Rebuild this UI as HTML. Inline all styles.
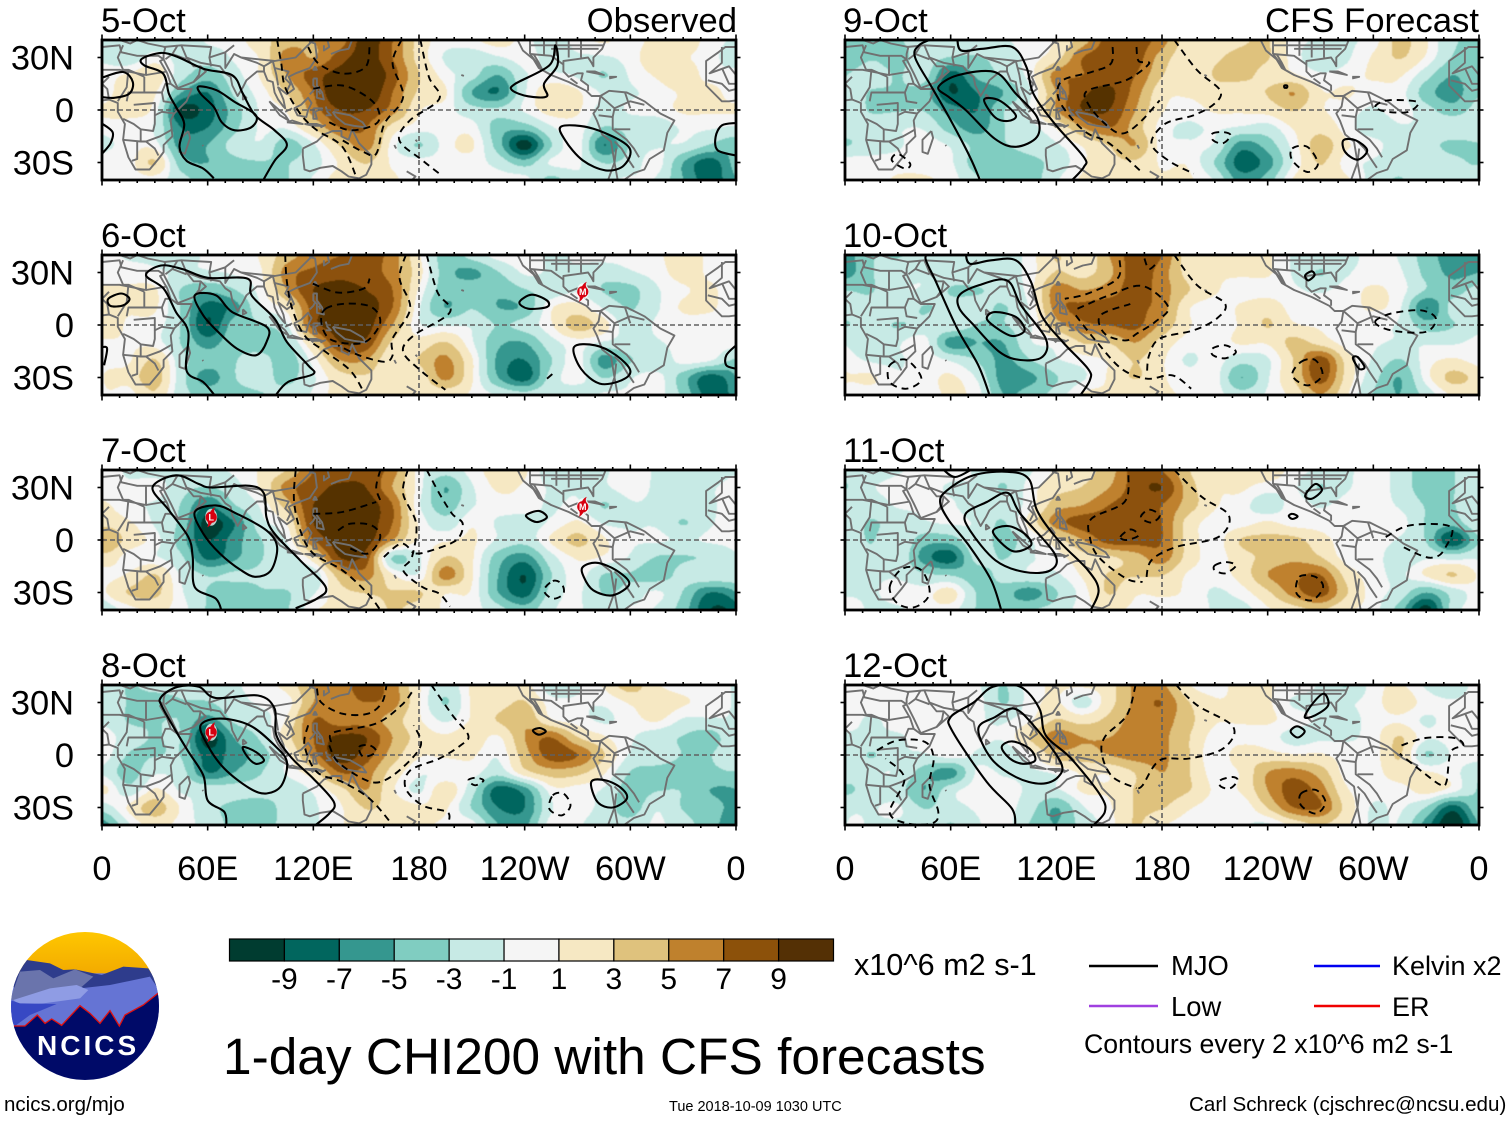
<!DOCTYPE html>
<html lang="en">
<head>
<meta charset="utf-8">
<title>1-day CHI200 with CFS forecasts</title>
<style>
html,body{margin:0;padding:0;background:#fff;}
svg{display:block;font-family:"Liberation Sans",Arial,sans-serif;}
</style>
</head>
<body>
<svg id="chart" xmlns="http://www.w3.org/2000/svg" width="1510" height="1121" viewBox="0 0 1510 1121">
<rect width="1510" height="1121" fill="#fff"/>
<g id="panels"></g>
<g font-size="34.7" fill="#000">
<text x="101" y="32">5-Oct</text>
<text x="101" y="247">6-Oct</text>
<text x="101" y="462">7-Oct</text>
<text x="101" y="677">8-Oct</text>
<text x="843" y="32">9-Oct</text>
<text x="843" y="247">10-Oct</text>
<text x="843" y="462">11-Oct</text>
<text x="843" y="677">12-Oct</text>
<text x="737" y="32" text-anchor="end">Observed</text>
<text x="1479" y="32" text-anchor="end">CFS Forecast</text>
</g>
<g id="colorbar"></g>
<text x="854" y="975" font-size="30.6">x10^6 m2 s-1</text>
<text x="223" y="1074" font-size="51.4">1-day CHI200 with CFS forecasts</text>
<g font-size="27">
<line x1="1089" x2="1158" y1="966" y2="966" stroke="#000" stroke-width="2.4"/>
<text x="1171" y="975" font-size="27.4">MJO</text>
<line x1="1089" x2="1158" y1="1006" y2="1006" stroke="#a040e0" stroke-width="2.6"/>
<text x="1171" y="1016" font-size="27.4">Low</text>
<line x1="1314" x2="1380" y1="966" y2="966" stroke="#0000f0" stroke-width="2.6"/>
<text x="1392" y="975">Kelvin x2</text>
<line x1="1314" x2="1380" y1="1006" y2="1006" stroke="#f00000" stroke-width="2.6"/>
<text x="1392" y="1016">ER</text>
<text x="1084" y="1053" font-size="26.65">Contours every 2 x10^6 m2 s-1</text>
</g>
<text x="4" y="1111" font-size="20.5">ncics.org/mjo</text>
<text x="669" y="1111" font-size="14.5">Tue 2018-10-09 1030 UTC</text>
<text x="1189" y="1111" font-size="20.6">Carl Schreck (cjschrec@ncsu.edu)</text>
<defs>
<clipPath id="logo-clip"><circle cx="255" cy="258" r="222"/></clipPath>
<linearGradient id="logo-sky" x1="0" y1="0" x2="0" y2="1"><stop offset="0" stop-color="#ffc800"/><stop offset="1" stop-color="#f0a400"/></linearGradient>
</defs>
<g transform="translate(0,920) scale(0.33333)">
<g clip-path="url(#logo-clip)">
<rect x="30" y="30" width="450" height="160" fill="url(#logo-sky)"/>
<rect x="30" y="160" width="450" height="200" fill="#6574d4"/>
<polygon fill="#2e3c8c" points="30,190 80,120 150,130 190,150 225,148 305,165 370,140 445,145 480,200 300,240 60,220"/>
<polygon fill="#6a74ac" points="30,240 60,155 120,150 160,175 225,148 280,170 240,205 150,235"/>
<polygon fill="#6574d4" points="240,205 330,195 450,170 480,215 400,270 340,300 180,330 50,330 100,280 240,235"/>
<polygon fill="#8f9ce4" points="40,240 150,205 230,195 265,210 240,235 130,250 60,255"/>
<polygon fill="#3748c4" points="30,240 60,250 170,252 90,285 45,318 30,300"/>
<polygon fill="#000a68" points="42,318 75,318 112,285 135,310 155,297 185,316 240,257 270,280 300,310 330,272 358,318 375,285 430,255 480,215 480,485 30,485"/>
<polyline fill="none" stroke="#e01010" stroke-width="4" points="42,318 75,318 112,285 135,310 155,297 185,316 240,257 270,280 300,310 330,272 358,318 375,285 430,255 480,215"/>
</g>
</g>
<text x="37" y="1055" font-size="28" font-weight="bold" fill="#fff" letter-spacing="3">NCICS</text>
</svg>
<script>
const lonTickValues = [0, 60, 120, 180, 240, 300, 360];
const lonTickLabels = ["0", "60E", "120E", "180", "120W", "60W", "0"];
const latTickValues = [30, 0, -30];
const latTickLabels = ["30N", "0", "30S"];
const levelBounds = [-9, -7, -5, -2.85, -0.75, 0.75, 2.85, 5, 7, 9];
const bandColors = ["#003c30", "#01665e", "#35978f", "#80cdc1", "#c7eae5", "#f5f5f5", "#f6e8c3", "#dfc27d", "#bf812d", "#8c510a", "#543005"];
const colorbarLabels = ["-9", "-7", "-5", "-3", "-1", "1", "3", "5", "7", "9"];

/* Fields: rows 40N to 40S every 10 degrees, columns 0E to 360E every 15 degrees */
const field5Oct = [
[-1,-1.5,-2,-2,-0.5,0,2,4,5,6,10,7,2,0,0.5,1.5,0,-2,0,1,0,1.5,2,0,-1],
[-1,-2,0,-1.5,-2,-0.5,1,6,5,8,10,7,2,-1,-2,-1,0,-1.5,-1,-1,0,2,1,0,-2],
[0,1,2,-2,-4,-1.5,1,5,8,10,11,8,3,0,-2,-5,-1,-0.5,-1,-3,-0.5,1,2,0,0],
[0,2,1,-5,-7,-2.5,0,3,7,11,11,7,2.5,1,-5,-7,-1,2,1,-1,-1,0,1,1.5,0],
[1,1.5,0,-9.5,-8,-4,-0.5,1,6,9,9,6,1,0,-2,-2.5,-0.5,1.5,1,-1.5,-0.5,0,1,1,1],
[0,0,-1,-7,-7,-3.5,-0.5,-0.5,3,7,7,2,0,0,0,-4,-4,-1,0,-3,-2,-2,-0.5,-0.5,-1],
[-1.5,0,0,-6,-5,-2,-1,-4,-1,3,6,0,-3,0,1,-4,-10,-3,0,-7,-2.5,-1,-1,-3,-4],
[0,0,3,-4,-5,-3.5,-3,-3,-1.5,1,3,0.5,0,0,0,-1.5,-4,-0.5,-0.5,-3,-2,0,-5,-8,-4],
[0,0,0,-2,-4,-4,-4,-3,-0.5,1.5,1.5,1,0,0.5,0,0,0,-3.5,-1,-1,-0.5,-1,-5,-8,-5]
];
const field6Oct = [
[0,-1,-1,-1.5,-0.5,-0.5,1,4,6,7,8,6,1,-4,-2,0,0,-1,-0.5,0,0,0.5,1.5,0.5,0],
[0,0,-0.5,-1,-1,-0.5,0.5,6,7.5,8.5,8,6,1.5,-4,-5.5,-3,-0.5,-1,-1,-2,-1,0,1.5,0.5,0],
[1,1,1,-3,-4.5,-3,0,5,9,9.5,9,7,0.5,-4,-3.5,-4.5,-3,-2,-1,-3,-3.5,-1,0.5,1,0],
[1,1,1,-3,-8,-6,-1,1.5,8,10,10,7,-0.5,-5,-3,-5,-4.5,0.5,1.5,-1,-3,-1,1,1,0],
[2,0.5,0,-3,-9,-4,-3,-1,8,10,10,5,-0.5,-1,-1,-3,-2,0.5,4,1.5,-2,-0.5,0,0,0],
[0.5,0.5,0,-3,-6,-3.5,-4,-3,3,9,8.5,2.5,1.5,3,-0.5,-4.5,-5,-1.5,0,-1,-1.5,-1,0,0,0],
[0,0.5,3,-2,-4,-3,-2,-4,0,5,5,1,3,5.5,1,-5.5,-7,-3,0,-6,-3,-2.5,0,-0.5,-3],
[0.5,1.5,4,-2,-6,-3,-2,-3.5,-1,2,2.5,1,1.5,5.5,1,-5,-8,-2,0,-3,-1,0,-4,-8,-5],
[0,0,2.5,-2,-3.5,-3.5,-3,-2,-0.5,1.5,1,1,1,1.5,0.5,-1,-2,-1,-2,-0.5,-0.5,0,-3.5,-8,-6]
];
const field7Oct = [
[0,-1,-1.5,-1,-1,-0.5,1,3,7,7.5,8,6,0,-2,0,1.5,1,-2,-2,-1,0,-1,-2,-2,-1],
[0,-0.5,0,-2,-3,-1.5,1,6,8,9.5,9,5,0,-5,-1,1,0.5,-1,-1,-1,0,-1,-1,-1,0],
[1,-0.5,-1,-3,-7,-3,-0.5,4,9,10,10,7,-0.5,-4,-1,0,0,-1,-0.5,-3,-1,-1,-1,-1,0],
[2,1,-1,-3.5,-10,-7,-1.5,1,9,10,10,7,0.5,-2,0.5,-1,-1.5,-0.5,1,-1,-1,-1,-3,-1,0],
[5,2,0,-4,-9,-6,-3,-0.5,7,10,10,5,0.5,0.5,1,-1,-2,1,3.5,1,-0.5,-0.5,-1,-0.5,0],
[2,0,-0.5,-2.5,-7.5,-5.5,-3,-2,2,9,8,-3,-1,3,1,-4,-6,-1.5,1,0.5,-1,-3,-3,-2.5,-1],
[0,1,3,-1,-3,-2.5,-2.5,-1.5,-2,4,6,1,-0.5,6,1,-5,-9,-3,0,-3,-3,-4,-2,-1,-1],
[0,3,3.5,-0.5,-3,-4,-3,-3,-1,2,3,3,3,1,0.5,-5,-8,-2,-0.5,-3,-2,-0.5,-3,-7,-5],
[-3,0,1,0,-3,-3,-3,-3,0.5,1,1.5,3,2,0.5,0,-2,-4,-1,-0.5,-2,-0.5,-1,-4,-9,-8]
];
const field8Oct = [
[-1,-3,-2,-2,-2,-1,0,1.5,5,6,8,6,1,-2,1,1.5,1.5,-2,-1,1,4,1,0,0,-1],
[-1,-3,-4,-3,-3,-1.5,-0.5,0,5,6,7,6,1,-3,1,2,3,0,-0.5,-0.5,1,2,1,0,-1],
[-1,-3,-3,-3,-6,-2.5,-1.5,1,7,6,6,4,1,-1,1,3,4.5,1,0,-1,0,1,-1,-1,-1],
[0,-2,-3,-3,-10,-5,-2.5,2,7,9.5,9,5,2,1,2,0.5,5,7,3,1,-0.5,-2,-3,-4,-1],
[0,-3,-3,-3,-8,-6,-4,0,6,10,8,4,1,1,1,-0.5,4,8,7,3,-1,-1,-3,-3,-1],
[-1,-4,-1,-2,-7,-5,-3,-0.5,2,7,6,2,-0.5,-0.5,0,-2,2,4,3.5,1,-3,-4,-4,-3.5,-3],
[1,-2,1,-1,-1.5,-2,-2,-2,-0.5,2,5,1,-1,2,-2,-8,-6,0,0,-1,-4,-3,-3,-5,-5],
[-2,1,4,0.5,-2,-3.5,-4,-2,-1,0.5,3,2,1,1,-3,-7,-7,-1,0,-1.5,-4,-1,-3,-4,-5],
[-6,-1,1.5,0,-1.5,-3.5,-4,-2,-1,0.5,2,1,1,0.5,0,-5,-5.5,0,-0.5,-2,-2,-0.5,-2,-4,-6]
];
const field9Oct = [
[-4,-3,-3,-2,-2,-2,-1,0,1,4,8,8,6,1.5,1.5,2.5,3,0,-1,-1,0,3.5,1,-2.5,-3],
[-4,-3,-3.5,-2,-3,-3,-2,0,2,7,8,8,4,1.5,2.5,3.5,3,0,-2,-1,1,3,0.5,-3,-4],
[-3,-2,-3,-2,-8,-4.5,-2.5,0,6,7,8,7,3,1,3,3.5,2,1,-0.5,0,1,1,-2,-5,-3],
[-2,-3,-3,-4,-9,-7,-5,-1,5,8.5,9.5,6,1.5,1,2,1.5,3,5,1,1,0,0,-4,-6,-3],
[-2,-3,-3,-3,-6,-7,-3,-0.5,5,9,9,5,1,0,1,1,1.5,3,1,0,-1,0,-2,-4,-2],
[-2,-2,-1,-1,-4,-6,-3,-1.5,1,5,7,4,0,-1,-0.5,-1,-1.5,1,2,0,-2,-1,-1,-1,-1],
[-3,-2,-1,0,-1,-3.5,-3,-2,-1,1,3,5,0,-0.5,-1,-6,-4,0,4,1,0,-2,-2,-3.5,-3],
[0,0,0,0,-0.5,-4,-4,-3.5,-2,0.5,2,2.5,0.5,0.5,-3,-8,-6,-0.5,3,0,-1,-2,-1,-2,-3],
[0,0,1,1,0,-2.5,-4,-4,-1,1,1,1,1,1,-1,-6,-4,1,2,1,-1.5,-3,-1,-1,-1]
];
const field10Oct = [
[-6,-3,-3,-2,-2,-2,-2,0,3,1,5,8,7,1.5,1,1,1,-1,-1,-1.5,0,-1,-4,-6,-6],
[-6,-3,-2,-1,-1.5,-1.5,-2,0,3,2,4.5,8,6,2,1,1,1,-1,-3,-1,0,-0.5,-3.5,-5.5,-5],
[-3,-3,-1,-1,-3,-3,-2,0,6,5,6,8,6,3,1,0,0,-0.5,-1,0,1,0,-3,-4,-2],
[-2,-2,-1,-3,-2,-2,-3,-0.5,6,7.5,8,7.5,6,1,0,1,2,0,0,0,1,-0.5,-7,-2,-1],
[-3,-2,-3,-2,-1,-3,-3,-1,4,6.5,7,7.5,4.5,1,0,1,3,1,0.5,0,-0.5,-1,-4,-3,-1],
[-1,-2,-1,0,-6,-5,-5,-1,0,3,3,5,2,0,0,1,1,3.5,2,0,-0.5,-1,-1,-1,-0.5],
[0,-1,-1,0,-1,-3,-5.5,-3,-1,0,1,3,1,-1,0,-2,-1,3,8,2,-1,-3,0,1,0],
[1,1,-0.5,0,1,-1,-6,-5.5,-3,-1,1,3,1,0,0,-5,-1,3,8,2,-2,-5,0,3.5,2],
[0,0,0,0,1,0,-5,-4,-2,1,1,1,1,0.5,0,-2,-0.5,1.5,5,1,-3,-5,-2,1,1]
];
const field11Oct = [
[-2,-2,-1,0,0,-1,-2,-1,1,2,4,8,7,3,1,1,2,0,-1,-1,0,-1.5,-4,-3,-1],
[-3,-1,0,0,-1,-1,-3,0,2,3,5,8,9,4,1,1,0,-0.5,-3,-1,0,-1.5,-4,-3,-1],
[-1,-2,-0.5,-0.5,-0.5,-2,-2,0,4,5,7,8,7,4,1,0,-2,0,-1,0,0,-1,-3,-3,-1],
[-2,-3,-2,-1,-0.5,-1,-3,1.5,6,8,8,8,7,2,0,0,1,0,0,0,0,0,-3,-4,-1],
[-2,-3,-1,-4,-4,-1,-4,-1,2,5,8,8,7,2,0,3,3.5,3.5,1.5,0,0,-1,-3,-9,-3],
[-1,-2,-1,-6,-8,-2,-3,-1,0,2,2.5,4,6,2,0,2,3.5,4.5,3,0,0,-2,-1,-1.5,-1],
[-1,-1,-1,-2.5,-3,-4,-2,-1,-1,1,3,3,3,0.5,0,1.5,5,6.5,7,2,0,-1,1,3,0.5],
[-1,-1,0,0,1.5,-3,-4,-6,-3,0,3,1,1,0.5,-1,0,2.5,6,8,3,0,-1.5,-5,-2,0],
[0,-1,-1,0,0,-3,-4,-3,-2,0,1,0.5,0.5,0.5,-1,-1.5,0.5,2,3,1,0,-4,-10,-2,0]
];
const field12Oct = [
[0,-0.5,-0.5,0,0,-0.5,-3,0,1,1,2,5.5,5.5,1,0,1.5,1,0,-1,-3,0,1,-1,-2,0],
[0,0,0,0,0,0,-3,0,1,-1.5,2,5.5,7,3,1,1,1,-1,-1,-1,0,2,0,-0.5,0],
[0,-1,0,0,0,-0.5,-1,0.5,3,2,3.5,6,6,3.5,1,1,1,0,-1,-1.5,0,0.5,-1,0,0],
[-1,-1,-1,0,0,0,-0.5,3,6,5,5,6,5.5,3,0,0,0,-1.5,-1,-1,0,3,-0.5,0,0],
[-1,-3,-1,-1,0,-1,-2,0,4,4,5,6,5.5,3,-0.5,2,1.5,1,1,0,0,3,-3,-0.5,0],
[-2,-1,-1,-4,-6,-0.5,-1,-1,-0.5,1,1,3,5,3,0,1,5,6,4,0,0,2,1,0,-2.5],
[-3,-2,-2,-5,-1.5,0,0,-1,-1,1,1,3,4,3,0.5,1,5,8,6,1,0,0,1.5,0,-3],
[-2,-1,-0.5,-3,-1.5,-0.5,0,-2,-5,-1,0.5,3,3,1,0,-0.5,3,7,7,2,-1,-0.5,-3,-8,-3],
[-1,-1,-1,-1,-3,-1,0,-3,-5,-2,0,3,1,0,0,-0.5,-1,1.5,3,1,-1,-1,-6,-11,-5]
];

/* Contours as [lon,lat] vertices: solid positive MJO, dashed negative */
const solid5Oct = [
[[63.5,-39],[57.5,-33.5],[48,-29],[44,-21],[46.7,-8],[42,1.7],[38,9.3],[34.7,20.8],[24,25.5],[22.7,29.3],[33.5,32.6],[43,30.3],[57.5,23.6],[74,19.8],[80,9.3],[87,-3],[98,-11.6],[105,-20],[98,-29],[91,-41]],
{closed:[[55,13.5],[65,11.3],[75.4,4.6],[87.4,-3],[85,-9.7],[75.4,-11.6],[68,-7],[63.5,1.7],[56,9.3]]},
[[0,18.5],[12,21.7],[17.5,16],[15.5,9.3],[7,7],[0,7.4]],
[[0,-7.8],[6,-12.6],[4.8,-19],[0,-25]],
[[360,-7.4],[352,-8.8],[348.4,-15.4],[349.6,-23],[360,-26]],
{closed:[[257.4,37],[254,25.5],[234.7,15],[233,11.2],[242,7.8],[252.6,7.8],[251,15],[258.6,25.5]]},
{closed:[[261,-9.3],[279,-10.7],[299,-21],[296.4,-31.6],[286,-34.5],[273,-28.8],[263,-17.3]]}
];
const dashed5Oct = [
[[99.4,40],[101.8,26.5],[104,13],[112.5,-2],[122,-11.6],[136.5,-21],[145,-40]],
[[170,40],[165,26.5],[171,7.4],[160.4,-7.8],[155.7,-25],[148.5,-24],[136.5,-17.3]],
[[180.8,40],[185.6,18.9],[191.6,6.5],[174.8,-6],[168.8,-17.3],[182,-28.8],[191.6,-36.4]],
[[117,36],[123,26.5],[136.5,20.8],[149.7,24.6],[152,38]],
[[120,12.2],[136.5,14],[150.7,7.4],[157,-0.2],[155.7,-7.8],[141,-11.6],[127,-6]]
];
const solid6Oct = [
[[64.6,-41],[57.5,-32.6],[48,-26],[49,-4],[42,7.4],[35,20.8],[25,28.4],[33.5,34],[45.5,32],[60,27],[82.6,26.5],[85,16.8],[98,3.6],[105,-9.7],[117,-23],[120,-28],[105.5,-32.6],[98,-41]],
{closed:[[52.7,17],[64.7,17],[74,7.4],[93.4,-1],[93.4,-9.7],[87.4,-17.3],[76.6,-13.5],[67,-5],[57.5,5.5]]},
{closed:[[3.6,15],[10.8,18],[15.6,15],[12,11.2],[4.8,10.9]]},
[[0,-12.6],[2.9,-13.5],[1.2,-23]],
[[360,-11.6],[354.5,-17.3],[354.5,-23],[360,-25]],
{closed:[[237,13],[244,17.3],[252.7,14],[252.7,10.3],[242,9.3]]},
{closed:[[268,-12.6],[280,-11.6],[292,-17.3],[300,-26],[295,-31.6],[282.6,-33.5],[272,-25]]}
];
const dashed6Oct = [
[[104,40],[105,24.6],[108,9.3],[115,-6],[127,-15.4],[141,-26],[148.5,-38]],
[[172.5,40],[169,26.5],[175,9.3],[165,-7.8],[165,-17.3],[160.4,-21],[146,-17.3],[134,-11.6]],
[[184.4,40],[190.4,18.9],[197.6,7.4],[177,-6],[171,-15.4],[182,-26.9],[195,-37]],
[[119.7,23.6],[134,18.5],[148.5,20.8],[152,26.5]],
{closed:[[127,9.3],[139,12.2],[153,10.3],[158,1.7],[151,-8.8],[141,-10.7],[129,-7.8],[124.5,1.7]]},
[[252.7,-30.7],[257,-26.9]]
];
const solid7Oct = [
[[68,-41],[64.6,-33.5],[52.7,-26.9],[51.5,-9.7],[49,1.7],[38,17],[28.7,30],[42,37],[55,32],[62,30],[83.8,31],[92,26.5],[93.4,13],[98,3.6],[112.5,-11.6],[127,-26.9],[122,-33.5],[110,-39]],
{closed:[[52.7,16],[64.7,19.8],[76.6,15],[93.4,5.5],[99.4,-4],[96,-17.3],[87.4,-21],[79,-17.3],[67,-7.8],[57.5,3.6]]},
{closed:[[240.7,14],[248,16.6],[252.6,13],[246.6,10.3]]},
{closed:[[273,-15.4],[281,-13],[292,-17.3],[299.4,-25],[290,-31.6],[279,-28.8],[273.5,-21]]}
];
const dashed7Oct = [
[[110,40],[109,22.7],[112.6,5.5],[120,-7.8],[136.5,-17.3],[151,-30.7],[158,-40]],
[[158,40],[155.7,30],[158,22.7]],
[[173.6,40],[171,26.5],[178.4,9.3],[176,-9.7],[171,-17.3],[182,-26.9],[191.6,-30.7],[197.6,-38]],
[[184.4,40],[191.6,26.5],[198.8,15],[204.8,9.3],[201,-0.2],[184,-6.9],[177,-7.8]],
[[120,15],[136.5,16],[155.7,21.7]],
[[134,5.5],[141,9.3],[153,8.4],[158,1.7],[151,-7.8],[139,-4]],
[[160,-9.7],[170,-2],[177,-7.8]],
{closed:[[256,-23.4],[261,-25],[262,-30.7],[256,-33.5],[251,-28.8]]}
];
const solid8Oct = [
[[70.6,-41],[69.5,-32.6],[60,-26],[57.5,-11.6],[48,3.6],[34.7,26.5],[33.5,33],[43,39],[55,39],[64.6,32.6],[88.6,34],[98,26.5],[99,11.2],[108,-2],[120,-13.5],[131.7,-26.9],[129,-33.5],[120,-41]],
{closed:[[56,17],[67,20.8],[83.8,17],[98,5.5],[105,-4],[102,-17.3],[93.4,-22],[83.8,-19],[69.5,-7.8],[60,5.5]]},
{closed:[[80,4.6],[87.4,1.7],[92,-3],[87.4,-5],[82.6,-1.1]]},
{closed:[[244.7,14],[248.6,15.4],[252,13.5],[248,11.6]]},
{closed:[[277.8,-15.4],[286,-14.5],[295,-19],[298,-25],[290,-30],[281.4,-26.9]]}
];
const dashed8Oct = [
[[122,38],[124.5,30],[136.5,23.6],[151,23.6],[159,30],[161.6,40]],
[[117,17],[115,5.5],[122,-9.7],[136.5,-15.4],[152,-25],[165,-40]],
[[130,7.4],[131.7,13],[155.7,18],[170,28.4],[176,36]],
[[129,5.5],[134,-4],[148,-13.5],[158,-15.4],[170,-7.8],[181,5.5],[177,17]],
[[187,40],[199,22.7],[208,11.2],[203.6,5.5],[191.6,-2],[175,-8.8],[172.4,-19],[182,-28.8],[196,-32.6],[197,-38]],
{closed:[[146,4.6],[152,5.5],[155.7,1.7],[148.5,-1]]},
{closed:[[208,-14.5],[212,-13],[216.7,-14.5],[212,-17.3]]},
{closed:[[256,-23],[262,-22],[266,-28.8],[261,-34.5],[254,-30.7]]}
];
const solid9Oct = [
[[77,-41],[71,-26.9],[59,-4],[49.3,13],[39.8,30],[42,37],[50.5,41]],
[[63.7,41],[66,34],[78,35],[95,36],[103,24.6],[107,9.3],[119,-7.8],[135.6,-26.9],[135.6,-32.6],[128,-41]],
{closed:[[53,13],[64,19.8],[85,21.7],[97,9.3],[109,-4],[109,-15.4],[97,-21],[85,-16.4],[68.5,0],[59,7.4]]},
{closed:[[79,5.9],[87.6,5.5],[97,-3],[92.4,-6.3],[85,-4]]},
{closed:[[249.5,14],[251,14],[251,12.8],[249.5,12.8]]},
{closed:[[283,-17.3],[290,-17.3],[296.5,-23],[291,-28.4],[284,-24]]}
];
const dashed9Oct = [
[[152,36],[151,26.5],[140,21.7],[123.6,17],[121,7.4],[128,-4],[138,-13.5],[150,-19],[169,-36]],
[[165.5,36],[166.7,28],[172.7,26.5],[159.5,17],[138,11.2],[138,3.6],[147.5,-7.8],[157,-13.5],[166.7,-7.8],[178.7,5.5]],
[[187,40],[200,22.7],[213,11.2],[209.8,3.6],[198,-3],[182,-7.8],[174,-19],[183.5,-28.8],[198,-36.4]],
{closed:[[208.6,-13.5],[214.6,-12.6],[219,-14.5],[214.6,-19],[209,-17.3]]},
{closed:[[254,-22],[262.5,-21],[268.5,-30.7],[262.5,-35.4],[254,-28.8]]},
{closed:[[301,1.7],[308,5.5],[325,4.6],[320,-1],[308,-1]]},
{closed:[[26.6,-28.8],[30,-25],[37,-30.7],[34,-33.5]]}
];
const solid10Oct = [
[[82.4,-41],[75.7,-23],[63.7,-2],[51.7,24.6],[45.7,38],[49,41]],
[[68.5,41],[71,35],[83,37],[97,37],[105.6,24.6],[111.6,5.5],[123.6,-9.7],[138,-25],[139,-31.6],[133,-41]],
{closed:[[64.9,17],[76,22.7],[92,25.5],[100,11.2],[114,-7.8],[112,-18.3],[99.6,-20],[87.7,-15.4],[73,0],[65,9.3]]},
{closed:[[80.5,3.6],[85,7.4],[97,4.6],[102,-3],[95,-6.3],[86.5,-2]]},
{closed:[[261.3,28.4],[265,30.7],[266.6,28.4],[263,25.5]]},
{closed:[[288.4,-19],[291,-18.3],[295,-24],[292,-25]]}
];
const dashed10Oct = [
[[156,37],[154.7,26.5],[138,18],[124.8,15]],
[[132,9.3],[150,17],[169,22.3],[183.5,10.3],[176,1.7],[165.5,-5],[159.5,-8.8],[147.5,-5],[145,5.5],[162,12]],
[[170,38],[172.7,32],[177.5,36]],
[[187,40],[200,22.7],[215.8,12.2],[211,3.6],[198,-3],[178.7,-7.8],[172.7,-17.3],[171.5,-26.9]],
[[131,5.5],[143,-9.7],[157,-25],[171.5,-30.7],[186,-28.8],[196.6,-36.4]],
{closed:[[208.6,-13.5],[216,-11.6],[222,-15.4],[216,-19],[209,-17.3]]},
{closed:[[259,-21],[267,-20],[271,-28.8],[262.5,-34.5],[254,-28.8]]},
{closed:[[301,1.7],[310,6.5],[327,8.4],[335.5,3.6],[329.5,-4],[310,-3]]},
{closed:[[25.4,-23],[35,-20],[43.4,-30.7],[35,-36.4],[25.4,-32.6]]}
];
const solid11Oct = [
[[89,-41],[83,-23],[71,-4],[59,11.2],[54,21.7],[58,28.4],[73,37],[92.4,39],[104.5,34.7],[109,17],[121,0],[138,-17.3],[144,-28.8],[139,-41]],
[[55,41],[62.5,36],[73,41]],
{closed:[[68.5,15],[80.5,21.7],[92.4,26.9],[99.6,15],[119,-7.8],[116.7,-17.3],[102,-18.3],[85.4,-11.6],[71,5.5]]},
{closed:[[84,4.6],[92.4,8],[102,3.6],[105.6,-3],[95,-6.3]]},
{closed:[[261.3,25.5],[267,32],[270.8,28.4],[265,23.6]]},
{closed:[[252,13.7],[254,15],[257,13.5],[254,12]]}
];
const dashed11Oct = [
[[161,37],[158.7,21.7],[140,12.2],[139,1.7],[144,-9.7],[159.6,-22],[169,-24]],
[[187,40],[202.6,24.6],[218,14],[212,1.7],[188,-4],[174,-11.6],[171,-23]],
{closed:[[168,13],[172.7,17.3],[178.7,14],[174,10]]},
{closed:[[156.4,1.7],[162,6],[166.7,2.7],[160,0]]},
{closed:[[210,-14.5],[216,-12.6],[222,-14.5],[216,-19],[210,-17.3]]},
{closed:[[258,-21],[267,-21],[271.5,-27],[265,-34.5],[256.5,-30.7]]},
[[307,1.7],[321,8.4],[344,7.4],[339.9,-6],[334,-10],[327,-8.8],[315,-3]],
{closed:[[25.4,-26.9],[32.6,-16.4],[43.4,-17.3],[48,-30.7],[39.8,-38.3],[30,-36.4]]}
];
const solid12Oct = [
[[96.7,-41],[94.8,-30.7],[80.5,-15.4],[61.3,13],[60,21.7],[73,30],[84,39],[99.6,39],[110.4,26.5],[114,11.2],[128.4,-2],[145,-23],[147.5,-32.6],[140,-41]],
{closed:[[75.7,15],[85.3,21.7],[96,26.5],[107,17],[122.4,-4],[121,-12.6],[111.4,-16.4],[97,-12.6],[83,-2]]},
{closed:[[89,4.6],[95,7.8],[104.8,3.6],[108,-3],[101,-5],[93.6,-2]]},
{closed:[[261,21.7],[266,30],[272,35],[274.4,28.4],[267,22.7]]},
{closed:[[253,13.5],[256.7,16.4],[261,13.5],[257,10]]}
];
const dashed12Oct = [
[[165,40],[160,22.7],[147.5,10.3],[146,-0.2],[152,-12.6],[165.5,-19]],
[[188,40],[200,28.4],[220.5,16],[214.6,3.6],[195.4,-2],[178.7,-3],[169,-17.3],[165.5,-19]],
{closed:[[213,-14.5],[220,-12.6],[223,-14.5],[218.7,-19],[213.4,-18]]},
{closed:[[259,-22],[267.5,-20],[272.8,-27],[267.5,-33.5],[259,-28.8]]},
[[316,5.5],[329.5,9.7],[346,9.7],[351,5.5],[344,1.7],[341.5,-15.4],[338,-17],[328,-9.7],[315,0.7]],
[[18.2,2.7],[30,8.4],[45.5,7.4],[50.3,-2],[48,-17.3],[53,-32.6],[49.5,-39],[35,-39],[25.4,-32.6],[33.8,-13.5],[23,-2]]
];

/* Coastlines and borders as [lon,lat] vertices */
const coastlines = [
[[0,36],[10,37],[11,33],[20,31],[32,31],[35,29],[33,28],[37,21],[39,15],[43,12],[51,12],[48,5],[41,-2],[39,-6],[40,-15],[35,-20],[35,-24],[32,-28],[27,-34],[19,-34],[15,-27],[12,-17],[13,-8],[9,-1],[9,4],[4,6],[0,5.5]],
[[360,36],[354,36],[350,33],[343,28],[343,20],[343,14],[347,10],[352,5],[356,5],[360,5.5]],
[[49,-12],[50,-16],[47,-25],[44,-24],[44,-17],[49,-12]],
[[10,40],[16,38],[20,40],[26,38],[36,36],[35,32],[35,29],[39,21],[43,12.5],[52,16],[59,22],[56,25],[52,25],[48,30],[56,27],[67,25],[70,21],[73,19],[74,14],[77,8],[80,13],[82,17],[88,22],[92,22],[94,17],[97,16],[98,10],[100,6],[103,2],[104,1],[103,6],[100,13],[105,9],[109,12],[106,19],[110,21],[118,24],[122,30],[121,38],[118,39],[122,40]],
[[126,37],[126,34],[129,36],[128,40]],
[[130,32],[135,34],[140,35],[142,40]],
[[80,9],[82,7],[80,6],[80,9]],
[[121,25],[122,23],[120,23],[121,25]],
[[109,1],[113,3],[117,7],[119,4],[117,0],[116,-4],[111,-3],[109,1]],
[[95,5],[104,-3],[106,-6],[101,-3],[95,5]],
[[105,-7],[114,-8],[108,-6],[105,-7]],
[[115,-8],[120,-9],[125,-9],[122,-8],[115,-8]],
[[127,2],[128,-1],[130,-3],[127,-3]],
[[119,-9],[120,-10]],[[124,-10],[127,-8.5]],[[104,-1],[108,1]],
[[120,1],[125,1],[121,-1],[122,-5],[120,-5],[120,1]],
[[120,18],[122,18],[122,14],[125,10],[126,6],[122,7],[122,12],[120,14],[120,18]],
[[118,9],[120,11],[121,13]],[[123,11],[124,9]],
[[131,-1],[141,-3],[148,-7],[150,-10],[143,-9],[138,-8],[133,-4],[131,-1]],
[[114,-22],[122,-18],[126,-14],[131,-12],[136,-12],[136,-15],[140,-17],[142,-11],[146,-19],[153,-26],[153,-31],[150,-37],[146,-39],[140,-38],[136,-35],[131,-32],[124,-33],[118,-35],[115,-34],[114,-26],[114,-22]],
[[173,-35],[178,-38],[175,-41]],
[[166,-20],[167,-22]],[[178,-17],[179,-18]],[[204,20],[205.5,19.5]],[[57,-20],[57.5,-20.5]],
[[236,40],[239,34],[245,29],[248,24],[255,20],[265,16],[275,11],[278,8],[283,8],[282,2],[279,-2],[281,-6],[284,-14],[289,-18],[291,-30],[287,-41]],
[[295,-41],[302,-36],[308,-34],[311,-28],[319,-23],[321,-13],[325,-6],[317,-2],[308,5],[298,10],[288,11],[283,8]],
[[286,40],[284,35],[279,30],[279,25],[278,27],[276,30],[269,29],[262,28],[262,22],[265,19],[270,21],[273,21],[272,17],[276,14],[276,11]],
[[243,32],[250,23],[248,27],[245,32]],
[[275,22],[285,20],[280,22],[275,22]],[[288,19],[292,19],[288,18]],
[[243,32],[255,31],[262,26]],
[[243,40],[243,32]],[[251,40],[251,31]],[[258,40],[258,31]],[[265,40],[265,30]],[[272,40],[272,30]],[[243,37],[285,37]],[[255,35],[282,35]],
[[266,18],[270,15]],[[283,8],[291,1],[290,-4],[282,-3]],[[291,1],[300,5],[308,3]],[[290,-4],[290,-11],[298,-17],[302,-22],[305,-27]],[[291,-18],[295,-22],[298,-27],[302,-33]],[[292,-22],[291,-30],[293,-41]],[[291,-11],[300,-11]],[[297,10],[300,1]],
[[0,23],[10,23],[25,20],[25,31]],[[25,20],[37,22]],[[12,37],[9,30],[12,23],[15,23],[24,19]],[[4,19],[0,15],[3,12],[4,6]],[[15,23],[14,13],[9,5]],[[24,19],[24,10],[15,10],[14,5]],[[24,10],[34,10],[35,5],[41,4]],[[34,10],[36,15],[39,15]],[[18,3],[30,4],[30,-3],[34,-1],[41,-2]],[[12,-5],[18,-8],[22,-11],[29,-12],[30,-8],[30,-3]],[[12,-17],[22,-18],[25,-18],[33,-15],[40,-11]],[[20,-18],[20,-28],[17,-29]],[[25,-18],[30,-22],[32,-26]],[[22,-11],[22,-18]],
[[352,36],[352,27],[345,21],[356,25],[360,20]],[[344,17],[352,15],[356,11],[360,12]],[[360,15],[356,15],[352,24]],
[[35,36],[45,37],[48,30]],[[43,37],[40,32],[48,29]],[[40,32],[36,29]],[[52,16],[55,20],[56,25]],[[45,37],[62,36],[61,30],[62,25]],[[61,30],[70,33],[75,37]],[[70,33],[70,24],[75,32],[79,30],[88,27],[92,25],[92,22]],[[97,28],[92,25]],[[97,28],[99,20],[100,14]],[[98,24],[106,22],[104,18],[107,15],[105,11]],[[79,30],[98,28],[110,30],[120,40]]
];

const panelLefts = [102, 102, 102, 102, 845, 845, 845, 845];
const panelTops = [40, 255, 470, 685, 40, 255, 470, 685];
const panelWidth = 634;
const panelHeight = 140;
const panelFields = [field5Oct, field6Oct, field7Oct, field8Oct, field9Oct, field10Oct, field11Oct, field12Oct];
const panelSolid = [solid5Oct, solid6Oct, solid7Oct, solid8Oct, solid9Oct, solid10Oct, solid11Oct, solid12Oct];
const panelDashed = [dashed5Oct, dashed6Oct, dashed7Oct, dashed8Oct, dashed9Oct, dashed10Oct, dashed11Oct, dashed12Oct];
const panelKeys = ["5-oct", "6-oct", "7-oct", "8-oct", "9-oct", "10-oct", "11-oct", "12-oct"];
const stormPanels = [1, 2, 2, 3];
const stormLons = [273, 273, 62, 62];
const stormLats = [19, 19, 13, 13];
const stormLetters = ["M", "M", "L", "L"];

const NS = "http://www.w3.org/2000/svg";
const root = document.getElementById("panels");
function mk(tag, parent) {
  const el = document.createElementNS(NS, tag);
  parent.appendChild(el);
  return el;
}
function xScale(p, lon) { return panelLefts[p] + lon / 360 * panelWidth; }
function yScale(p, lat) { return panelTops[p] + (40 - lat) / 80 * panelHeight; }
function catmull(a, b, c, d, t) {
  return b + 0.5 * t * (c - a + t * (2 * a - 5 * b + 4 * c - d + t * (3 * (b - c) + d - a)));
}
function sampleField(f, lon, lat) {
  const cols = f[0].length, rows = f.length;
  const fx = lon / 15, fy = (40 - lat) / 10;
  const ix = Math.min(Math.floor(fx), cols - 2), iy = Math.min(Math.floor(fy), rows - 2);
  const tx = fx - ix, ty = fy - iy;
  const vals = [];
  for (let j = -1; j <= 2; j++) {
    const r = f[Math.max(0, Math.min(rows - 1, iy + j))];
    const g = (k) => r[((k % (cols - 1)) + (cols - 1)) % (cols - 1) === 0 && k >= cols - 1 ? cols - 1 : ((k % (cols - 1)) + (cols - 1)) % (cols - 1)];
    vals.push(catmull(g(ix - 1), g(ix), g(ix + 1), g(ix + 2), tx));
  }
  return catmull(vals[0], vals[1], vals[2], vals[3], ty);
}
function bandIndex(v) {
  let i = 0;
  while (i < levelBounds.length && v >= levelBounds[i]) i++;
  return i;
}
function smoothPath(pts, closed) {
  const n = pts.length;
  const at = (i) => closed ? pts[(i + n) % n] : pts[Math.max(0, Math.min(n - 1, i))];
  let d = "M" + pts[0][0].toFixed(1) + " " + pts[0][1].toFixed(1);
  const segs = closed ? n : n - 1;
  for (let i = 0; i < segs; i++) {
    const p0 = at(i - 1), p1 = at(i), p2 = at(i + 1), p3 = at(i + 2);
    d += "C" + (p1[0] + (p2[0] - p0[0]) / 6).toFixed(1) + " " + (p1[1] + (p2[1] - p0[1]) / 6).toFixed(1) + " " +
      (p2[0] - (p3[0] - p1[0]) / 6).toFixed(1) + " " + (p2[1] - (p3[1] - p1[1]) / 6).toFixed(1) + " " +
      p2[0].toFixed(1) + " " + p2[1].toFixed(1);
  }
  return d + (closed ? "Z" : "");
}
const defs = mk("defs", root);
const softFilter = mk("filter", defs);
softFilter.setAttribute("id", "soft");
softFilter.setAttribute("x", "0");
softFilter.setAttribute("y", "0");
softFilter.setAttribute("width", "1");
softFilter.setAttribute("height", "1");
const softBlur = mk("feGaussianBlur", softFilter);
softBlur.setAttribute("stdDeviation", "0.6");

panelFields.forEach(function (field, p) {
  const L = panelLefts[p], T = panelTops[p];
  const panel = mk("g", root);
  
  
  const clip = mk("clipPath", defs);
  clip.setAttribute("id", "clip" + p);
  const clipRect = mk("rect", clip);
  clipRect.setAttribute("x", L);
  clipRect.setAttribute("y", T);
  clipRect.setAttribute("width", panelWidth);
  clipRect.setAttribute("height", panelHeight);

  /* filled bands */
  const bandsGroup = mk("g", panel);
  
  
  bandsGroup.setAttribute("filter", "url(#soft)");
  const bandPaths = bandColors.map(function () { return []; });
  for (let py = 0; py < panelHeight; py++) {
    const lat = 40 - (py + 0.5) / panelHeight * 80;
    let start = 0, cur = -1;
    for (let px = 0; px <= panelWidth; px++) {
      let b = -2;
      if (px < panelWidth) {
        const lon = (px + 0.5) / panelWidth * 360;
        b = bandIndex(sampleField(field, lon, lat));
      }
      if (b !== cur) {
        if (cur >= 0) bandPaths[cur].push("M" + (L + start) + " " + (T + py) + "h" + (px - start) + "v1h" + (start - px) + "z");
        start = px;
        cur = b;
      }
    }
  }
  bandPaths.forEach(function (segs, b) {
    if (!segs.length) return;
    const path = mk("path", bandsGroup);
    
    
    path.setAttribute("d", segs.join(""));
    path.setAttribute("fill", bandColors[b]);
    path.setAttribute("shape-rendering", "crispEdges");
  });

  const clipped = mk("g", panel);
  clipped.setAttribute("clip-path", "url(#clip" + p + ")");

  /* coastlines */
  const coast = mk("g", clipped);
  
  
  coast.setAttribute("fill", "none");
  coast.setAttribute("stroke", "#707070");
  coast.setAttribute("stroke-width", "1.9");
  coast.setAttribute("stroke-linejoin", "round");
  coastlines.forEach(function (line) {
    const pl = mk("polyline", coast);
    
    
    pl.setAttribute("points", line.map(function (q) { return xScale(p, q[0]).toFixed(1) + "," + yScale(p, q[1]).toFixed(1); }).join(" "));
  });

  /* equator and dateline */
  const eq = mk("line", clipped);
  
  
  eq.setAttribute("x1", L);
  eq.setAttribute("x2", L + panelWidth);
  eq.setAttribute("y1", yScale(p, 0));
  eq.setAttribute("y2", yScale(p, 0));
  eq.setAttribute("stroke", "#606060");
  eq.setAttribute("stroke-width", "1.6");
  eq.setAttribute("stroke-dasharray", "5 3");
  const dl = mk("line", clipped);
  
  
  dl.setAttribute("x1", xScale(p, 180));
  dl.setAttribute("x2", xScale(p, 180));
  dl.setAttribute("y1", T);
  dl.setAttribute("y2", T + panelHeight);
  dl.setAttribute("stroke", "#606060");
  dl.setAttribute("stroke-width", "1.6");
  dl.setAttribute("stroke-dasharray", "5 3");

  /* MJO contours */
  [[panelSolid[p], "mjo-contour-positive", "none", "2.1"], [panelDashed[p], "mjo-contour-negative", "7 5", "1.9"]].forEach(function (set) {
    set[0].forEach(function (c) {
      const closed = !Array.isArray(c);
      const verts = closed ? c.closed : c;
      const path = mk("path", clipped);
      
      
      path.setAttribute("d", smoothPath(verts.map(function (q) { return [xScale(p, q[0]), yScale(p, q[1])]; }), closed));
      path.setAttribute("fill", "none");
      path.setAttribute("stroke", "#000");
      path.setAttribute("stroke-width", set[3]);
      if (set[2] !== "none") path.setAttribute("stroke-dasharray", set[2]);
    });
  });

  /* storm markers */
  stormPanels.forEach(function (sp, i) {
    if (sp !== p) return;
    const sx = xScale(p, stormLons[i]), sy = yScale(p, stormLats[i]);
    const s = mk("g", panel);
    
    
    const halo = mk("ellipse", s);
    halo.setAttribute("cx", sx);
    halo.setAttribute("cy", sy);
    halo.setAttribute("rx", 6);
    halo.setAttribute("ry", 8.5);
    halo.setAttribute("fill", "#fff");
    halo.setAttribute("fill-opacity", "0.75");
    const tail = mk("path", s);
    tail.setAttribute("d", "M" + (sx - 1) + " " + (sy - 5) + "Q" + (sx + 1) + " " + (sy - 9) + " " + (sx + 4) + " " + (sy - 10) + "Q" + (sx + 2) + " " + (sy - 7) + " " + (sx + 4) + " " + (sy - 3) + "Z M" + (sx + 1) + " " + (sy + 5) + "Q" + (sx - 1) + " " + (sy + 9) + " " + (sx - 4) + " " + (sy + 10) + "Q" + (sx - 2) + " " + (sy + 7) + " " + (sx - 4) + " " + (sy + 3) + "Z");
    tail.setAttribute("fill", "#d80010");
    const body = mk("circle", s);
    body.setAttribute("cx", sx);
    body.setAttribute("cy", sy);
    body.setAttribute("r", 5.6);
    body.setAttribute("fill", "#d80010");
    const letter = mk("text", s);
    letter.setAttribute("x", sx);
    letter.setAttribute("y", sy + 3.2);
    letter.setAttribute("text-anchor", "middle");
    letter.setAttribute("font-size", "9");
    letter.setAttribute("font-weight", "bold");
    letter.setAttribute("fill", "#fff");
    letter.textContent = stormLetters[i];
  });

  /* frame */
  const frame = mk("rect", panel);
  
  
  frame.setAttribute("x", L);
  frame.setAttribute("y", T);
  frame.setAttribute("width", panelWidth);
  frame.setAttribute("height", panelHeight);
  frame.setAttribute("fill", "none");
  frame.setAttribute("stroke", "#000");
  frame.setAttribute("stroke-width", "2.8");

  /* ticks */
  const ticks = mk("g", panel);
  
  
  ticks.setAttribute("stroke", "#000");
  ticks.setAttribute("stroke-width", "1.6");
  for (let lon = 0; lon <= 360; lon += 10) {
    const len = lon % 60 === 0 ? 5.5 : 3;
    const tx = xScale(p, lon);
    const a = mk("line", ticks);
    a.setAttribute("x1", tx); a.setAttribute("x2", tx);
    a.setAttribute("y1", T); a.setAttribute("y2", T - len);
    const b = mk("line", ticks);
    b.setAttribute("x1", tx); b.setAttribute("x2", tx);
    b.setAttribute("y1", T + panelHeight); b.setAttribute("y2", T + panelHeight + len);
  }
  latTickValues.forEach(function (lat, i) {
    const ty = yScale(p, lat);
    const a = mk("line", ticks);
    a.setAttribute("x1", L); a.setAttribute("x2", L - 4.5);
    a.setAttribute("y1", ty); a.setAttribute("y2", ty);
    const b = mk("line", ticks);
    b.setAttribute("x1", L + panelWidth); b.setAttribute("x2", L + panelWidth + 4.5);
    b.setAttribute("y1", ty); b.setAttribute("y2", ty);
    if (p < 4) {
      const lab = mk("text", panel);
      
      
      lab.setAttribute("x", 74);
      lab.setAttribute("y", ty + 12);
      lab.setAttribute("text-anchor", "end");
      lab.setAttribute("font-size", "34.4");
      lab.textContent = latTickLabels[i];
    }
  });
  if (p === 3 || p === 7) {
    lonTickValues.forEach(function (lon, i) {
      const lab = mk("text", panel);
      
      
      lab.setAttribute("x", xScale(p, lon));
      lab.setAttribute("y", 880);
      lab.setAttribute("text-anchor", "middle");
      lab.setAttribute("font-size", "34.4");
      lab.textContent = lonTickLabels[i];
    });
  }
});

/* colorbar */
const cbar = document.getElementById("colorbar");
const cbLeft = 229.5, cbWidth = 604, cbTop = 939, cbHeight = 22;
bandColors.forEach(function (col, i) {
  const w = cbWidth / bandColors.length;
  const r = mk("rect", cbar);
  
  
  r.setAttribute("x", cbLeft + i * w);
  r.setAttribute("y", cbTop);
  r.setAttribute("width", w);
  r.setAttribute("height", cbHeight);
  r.setAttribute("fill", col);
  r.setAttribute("stroke", "#000");
  r.setAttribute("stroke-width", "1.2");
});
colorbarLabels.forEach(function (label, i) {
  const w = cbWidth / bandColors.length;
  const t = mk("text", cbar);
  
  
  t.setAttribute("x", cbLeft + (i + 1) * w);
  t.setAttribute("y", 989);
  t.setAttribute("text-anchor", "middle");
  t.setAttribute("font-size", "30");
  t.textContent = label;
});
</script>
</body>
</html>
